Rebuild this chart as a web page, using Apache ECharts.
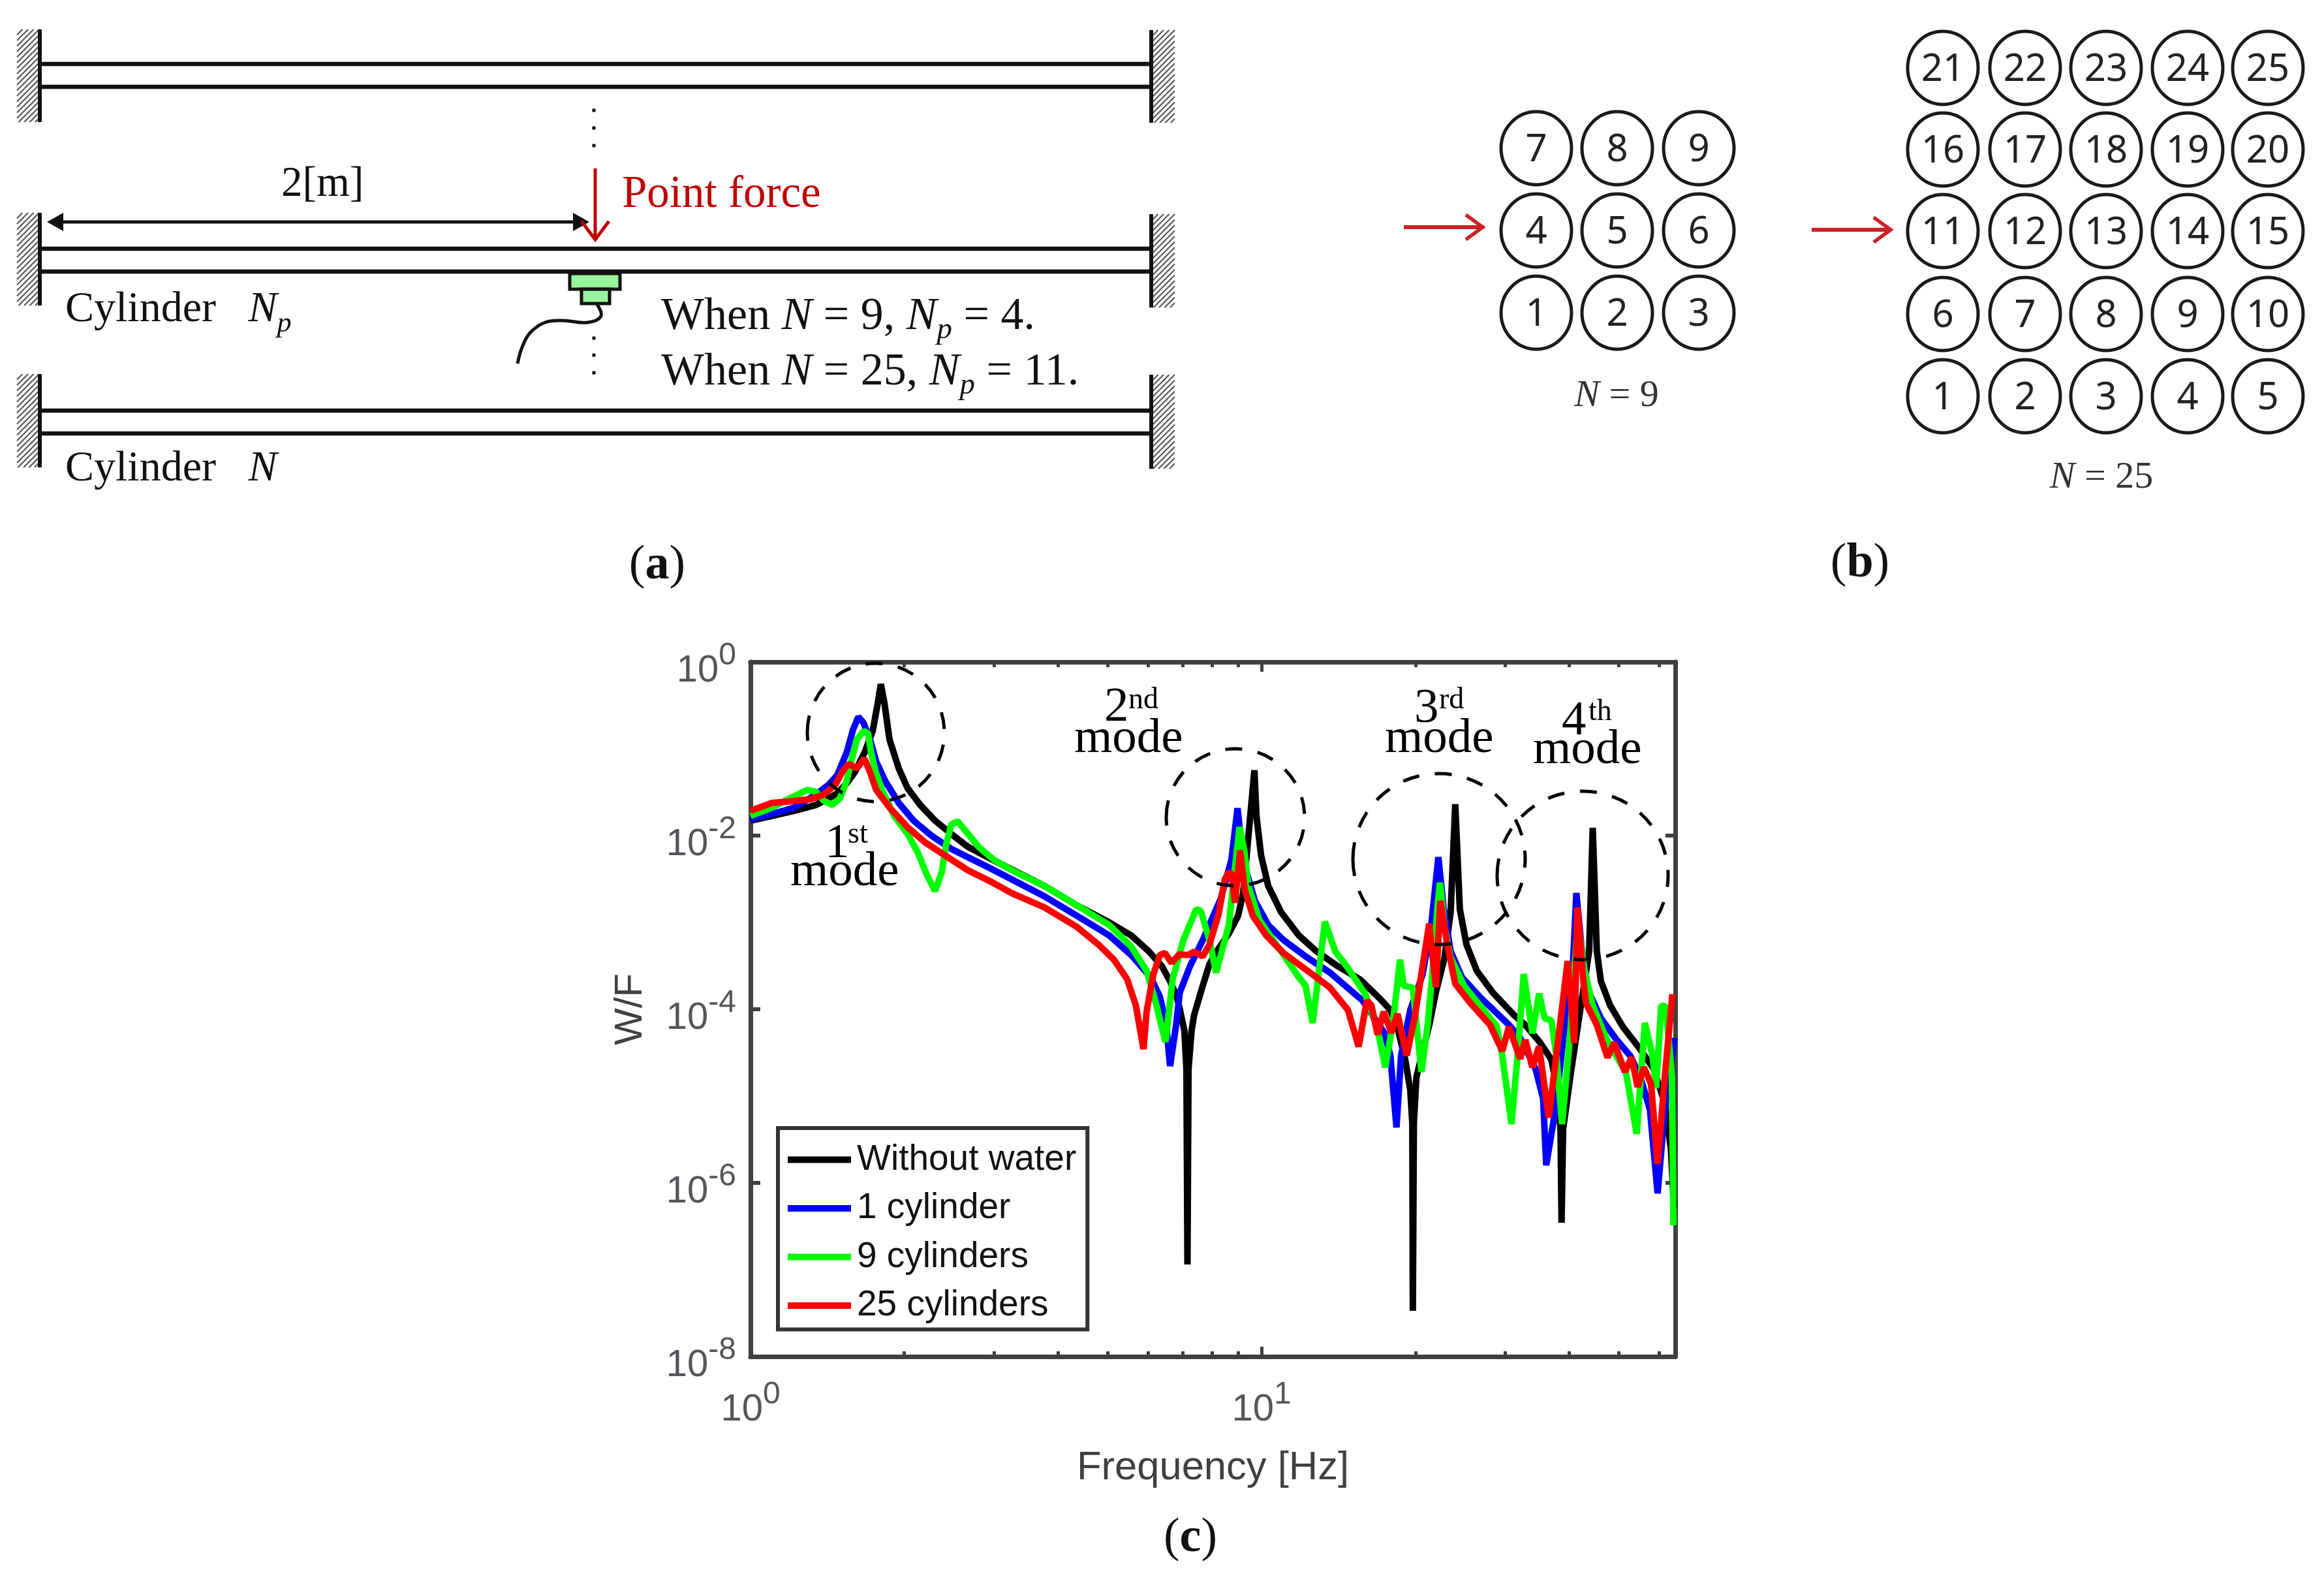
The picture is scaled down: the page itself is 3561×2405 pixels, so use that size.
<!DOCTYPE html>
<html>
<head>
<meta charset="utf-8">
<style>html,body{margin:0;padding:0;background:#fff}#c{width:3561px;height:2405px}</style>
<script src="https://cdn.jsdelivr.net/npm/echarts@6/dist/echarts.min.js"></script>
</head>
<body>
<div id="c"></div>
<script>
// Values, in decades: log10(frequency in Hz) and log10(W/F).
const seriesNames = ['Without water', '1 cylinder', '9 cylinders', '25 cylinders'];

const blackLogF = [0,.042,.086,.128,.153,.170,.188,.204,.223,.239,.249,.255,.262,.272,.290,.307,.332,.361,.392,.425,.469,.511,.575,.639,.702,.745,.779,.805,.821,.834,.840,.849,.853,.855,.857,.863,.868,.881,.898,.916,.936,.954,.964,.974,.986,.990,.999,1.013,1.038,1.073,1.107,1.149,1.192,1.232,1.252,1.267,1.281,1.291,1.295,1.296,1.298,1.303,1.329,1.341,1.358,1.370,1.379,1.388,1.401,1.421,1.452,1.494,1.516,1.545,1.567,1.579,1.585,1.587,1.590,1.604,1.623,1.641,1.648,1.656,1.664,1.682,1.707,1.737,1.767,1.789,1.801,1.807];
const blackLogWF = [-1.827,-1.774,-1.714,-1.647,-1.571,-1.511,-1.398,-1.271,-1.045,-.797,-.474,-.256,-.474,-.895,-1.226,-1.451,-1.647,-1.827,-1.977,-2.128,-2.263,-2.391,-2.579,-2.805,-3.000,-3.150,-3.331,-3.504,-3.677,-3.857,-4.000,-4.248,-4.692,-6.940,-4.692,-4.248,-4.068,-3.805,-3.481,-3.301,-3.128,-2.925,-2.662,-2.023,-1.248,-1.774,-2.226,-2.579,-2.880,-3.150,-3.331,-3.504,-3.654,-3.880,-4.008,-4.233,-4.579,-4.932,-5.308,-7.474,-5.308,-4.782,-4.158,-3.805,-3.406,-2.880,-1.639,-2.850,-3.256,-3.556,-3.805,-4.068,-4.180,-4.383,-4.579,-4.932,-5.383,-6.459,-5.383,-4.782,-4.030,-3.331,-1.910,-3.331,-3.677,-3.955,-4.203,-4.429,-4.684,-5.083,-5.609,-6.286];

const blueLogF = [0,.042,.086,.128,.153,.170,.188,.201,.211,.221,.234,.246,.264,.290,.319,.354,.392,.425,.469,.511,.575,.639,.702,.745,.783,.801,.813,.821,.833,.840,.860,.885,.920,.941,.953,.960,.971,.987,1.013,1.043,1.086,1.134,1.198,1.241,1.252,1.264,1.273,1.291,1.315,1.332,1.346,1.356,1.370,1.392,1.427,1.484,1.506,1.536,1.551,1.557,1.575,1.596,1.609,1.616,1.626,1.639,1.664,1.695,1.722,1.741,1.760,1.775,1.789,1.808];
const blueLogWF = [-1.812,-1.752,-1.677,-1.526,-1.414,-1.301,-1.045,-.774,-.632,-.699,-.895,-1.150,-1.376,-1.624,-1.827,-2.000,-2.150,-2.248,-2.376,-2.504,-2.699,-2.925,-3.150,-3.376,-3.632,-3.857,-4.158,-4.654,-4.173,-3.805,-3.504,-3.203,-2.729,-2.278,-1.684,-2.075,-2.429,-2.752,-3.030,-3.203,-3.391,-3.579,-3.902,-4.278,-4.534,-5.361,-4.534,-4.008,-3.602,-3.030,-2.248,-2.827,-3.331,-3.632,-3.857,-4.180,-4.331,-4.684,-5.030,-5.797,-5.158,-4.030,-3.526,-2.662,-3.278,-3.782,-4.105,-4.353,-4.541,-4.782,-5.158,-6.120,-5.158,-4.331];

const greenLogF = [0,.042,.077,.111,.128,.144,.160,.175,.188,.198,.208,.221,.230,.236,.245,.259,.281,.307,.328,.345,.361,.374,.383,.393,.405,.421,.447,.476,.511,.575,.639,.702,.745,.775,.792,.812,.826,.847,.872,.881,.898,.911,.936,.945,.957,.967,.974,.996,1.038,1.073,1.086,1.100,1.124,1.144,1.169,1.203,1.227,1.242,1.257,1.271,1.278,1.296,1.303,1.313,1.325,1.335,1.345,1.349,1.358,1.370,1.396,1.427,1.460,1.471,1.489,1.501,1.513,1.530,1.543,1.554,1.567,1.577,1.588,1.604,1.619,1.631,1.648,1.674,1.713,1.734,1.750,1.765,1.772,1.782,1.791,1.803,1.806];
const greenLogWF = [-1.774,-1.677,-1.571,-1.474,-1.496,-1.602,-1.647,-1.571,-1.376,-1.120,-.895,-.797,-.820,-1.045,-1.271,-1.496,-1.774,-1.977,-2.203,-2.451,-2.639,-2.429,-2.098,-1.872,-1.835,-1.947,-2.135,-2.278,-2.398,-2.579,-2.805,-3.030,-3.278,-3.556,-3.902,-4.376,-3.654,-3.203,-2.850,-2.865,-3.203,-3.579,-3.030,-2.526,-1.902,-2.203,-2.579,-2.977,-3.331,-3.632,-3.729,-4.158,-2.992,-3.331,-3.526,-3.827,-4.233,-4.669,-4.158,-3.429,-3.729,-3.752,-4.158,-4.722,-4.180,-3.526,-2.774,-2.541,-3.053,-3.406,-3.729,-3.955,-4.195,-4.534,-5.323,-4.534,-3.594,-4.278,-3.820,-4.105,-4.128,-4.534,-5.323,-4.278,-2.977,-3.526,-3.955,-4.331,-4.729,-5.436,-4.158,-4.534,-4.910,-3.955,-3.970,-4.782,-6.489];

const redLogF = [0,.042,.086,.119,.144,.166,.179,.192,.208,.223,.234,.246,.272,.307,.341,.374,.425,.469,.511,.575,.639,.681,.711,.737,.754,.769,.775,.788,.801,.811,.824,.839,.856,.868,.885,.898,.916,.928,.935,.941,.948,.958,.967,.983,1.009,1.043,1.107,1.134,1.169,1.190,1.206,1.215,1.227,1.239,1.254,1.266,1.284,1.300,1.328,1.341,1.350,1.363,1.379,1.409,1.447,1.471,1.484,1.506,1.516,1.530,1.543,1.562,1.599,1.612,1.618,1.630,1.635,1.656,1.677,1.690,1.711,1.724,1.736,1.748,1.762,1.775,1.789,1.804];
const redLogWF = [-1.714,-1.624,-1.602,-1.579,-1.526,-1.414,-1.271,-1.173,-1.226,-1.113,-1.271,-1.474,-1.677,-1.902,-2.075,-2.203,-2.398,-2.526,-2.662,-2.827,-3.053,-3.256,-3.429,-3.654,-3.955,-4.459,-4.030,-3.602,-3.376,-3.353,-3.466,-3.368,-3.376,-3.338,-3.391,-3.256,-2.902,-2.504,-2.429,-2.436,-2.774,-2.173,-2.624,-2.925,-3.150,-3.353,-3.632,-3.752,-4.008,-4.429,-3.902,-3.955,-4.293,-4.030,-4.271,-4.053,-4.534,-4.083,-3.015,-3.744,-2.752,-3.241,-3.707,-3.932,-4.180,-4.481,-4.203,-4.571,-4.353,-4.669,-4.429,-5.248,-3.444,-4.391,-2.827,-3.692,-3.932,-4.180,-4.556,-4.383,-4.722,-4.556,-4.895,-4.669,-4.857,-5.782,-4.782,-3.827];

const xMajorTicks = [1, 10];
const xMinorTicks = [2,3,4,5,6,7,8,9,20,30,40,50,60];
const yTickValues = [1,1e-2,1e-4,1e-6,1e-8];
const modeLabels = [['1','st'],['2','nd'],['3','rd'],['4','th']];
const gridN9 = [[7,8,9],[4,5,6],[1,2,3]];
const gridN25 = [[21,22,23,24,25],[16,17,18,19,20],[11,12,13,14,15],[6,7,8,9,10],[1,2,3,4,5]];

const SANS = '"Liberation Sans",Arial,sans-serif';
const SERIF = '"Liberation Serif","Times New Roman",serif';
const AXC = '#404040';

function pair(fs, ws){ return fs.map((f,i)=>[Math.pow(10,f), Math.pow(10,ws[i])]); }
function lineSeries(i, fs, ws, color){
  return {name:seriesNames[i], type:'line', xAxisIndex:0, yAxisIndex:0, data:pair(fs,ws), symbol:'none', showSymbol:false, smooth:false, animation:false, clip:true, silent:true,
    lineStyle:{color, width:10, join:'bevel', cap:'butt'}, itemStyle:{color}, z:3+i};
}

const g = [];
function T(text,x,base,size,o){ o=o||{};
  g.push({type:'text', z:20, silent:true, style:Object.assign({text, x, y:base-0.27*size, fontFamily:o.font||SERIF, fontSize:size, fill:o.fill||'#111', align:o.align||'left', verticalAlign:'middle', fontStyle:o.italic?'italic':'normal', fontWeight:o.bold?'bold':'normal'}, o.extra||{})});
}
function L(pts,w,c,o){ o=o||{};
  g.push({type:'polyline', z:o.z||15, silent:true, shape:{points:pts, smooth:o.smooth||0}, style:{stroke:c, lineWidth:w, fill:'none', lineCap:'butt', lineJoin:'miter'}});
}
function P(pts,c){ g.push({type:'polygon', z:15, silent:true, shape:{points:pts}, style:{fill:c, stroke:null}}); }
function R(x,y,w,h,fill,stroke,lw){ g.push({type:'rect', z:14, silent:true, shape:{x,y,width:w,height:h}, style:{fill, stroke, lineWidth:lw}}); }

// Panel (a): beams and clamped ends
const beamX0 = 61, beamX1 = 1764;
[[98,133],[381,416],[629,664]].forEach(b=>b.forEach(y=>L([[beamX0,y],[beamX1,y]],6.5,'#111')));
function hatch(x0,x1,y0,y1){
  const step=8.5, w=x1-x0;
  for(let s=y0+step; s<y1+w; s+=step){
    let ax=x0, ay=s, bx=x1, by=s-w;
    if(ay>y1){ ax=x0+(ay-y1); ay=y1; }
    if(by<y0){ bx=x1-(y0-by); by=y0; }
    L([[ax,ay],[bx,by]],2.2,'#555',{z:13});
  }
}
[[45,187],[326,468],[573,716]].forEach(r=>{ hatch(26,60,r[0],r[1]); L([[61,r[0]],[61,r[1]]],6,'#111'); });
[[46,188],[328,471],[574,718]].forEach(r=>{ hatch(1766,1800,r[0],r[1]); L([[1764,r[0]],[1764,r[1]]],6,'#111'); });
[169,196,223,518,544,571].forEach(y=>R(907.5,y-2.5,5,5,'#111',null,0));
// dimension arrow
L([[85,340],[890,340]],5,'#111');
P([[72,340],[97,326],[97,354]],'#111');
P([[903,340],[878,326],[878,354]],'#111');
T('2[m]',431,300,65);
// point force
L([[912,258],[912,365]],5,'#c00000');
L([[891,339],[912,367],[933,339]],5,'#c00000');
T('Point force',953,318,69,{fill:'#c00000'});
// sensor
R(873,419,77,24,'#99f59d','#111',5);
R(891,443,43,22,'#99f59d','#111',5);
L([[914,465],[921,484],[900,494],[862,491],[835,494],[812,510],[800,532],[793,557]],5,'#111',{smooth:0.4});
function richFor(sz){ return {r:{fontFamily:SERIF,fontSize:sz,lineHeight:86,fill:'#111'}, i:{fontFamily:SERIF,fontStyle:'italic',fontSize:sz,lineHeight:86,fill:'#111'}, p:{fontFamily:SERIF,fontStyle:'italic',fontSize:sz*0.67,lineHeight:86,verticalAlign:'bottom',fill:'#111'}}; }
function RT(text,x,base,sz){ g.push({type:'text',z:20,silent:true,style:{text,x,y:base-16,align:'left',verticalAlign:'middle',fontFamily:SERIF,fontSize:sz,fill:'#111',rich:richFor(sz)}}); }
RT('{r|Cylinder   }{i|N}{p|p}',100,491,66);
RT('{r|Cylinder   }{i|N}',100,735,66);
RT('{r|When }{i|N}{r| = 9, }{i|N}{p|p}{r| = 4.}',1013,502,70);
RT('{r|When }{i|N}{r| = 25, }{i|N}{p|p}{r| = 11.}',1013,587,70);

// Panel (b): cylinder arrays
function circles(rows,xs,ys){
  rows.forEach((row,ri)=>row.forEach((n,ci)=>{
    g.push({type:'ellipse',z:14,silent:true,shape:{cx:xs[ci],cy:ys[ri],rx:54,ry:56},style:{fill:'#fff',stroke:'#1a1a1a',lineWidth:5}});
    g.push({type:'text',z:20,silent:true,style:{text:String(n),x:xs[ci],y:ys[ri]+3,align:'center',verticalAlign:'middle',fontFamily:'"Noto Sans",sans-serif',fontSize:58,fill:'#222'}});
  }));
}
circles(gridN9,[2354,2478,2603],[227,353,479]);
circles(gridN25,[2977,3103,3227,3352,3475],[104,229,354,481,607]);
function redArrow(x0,x1,y){ L([[x0,y],[x1-3,y]],6,'#cc2127'); L([[x1-26,y-19],[x1,y],[x1-26,y+19]],5.5,'#cc2127'); }
redArrow(2151,2272,348);
redArrow(2776,2897,352);
const richN = {r:{fontFamily:SERIF,fontSize:58,fill:'#333'},i:{fontFamily:SERIF,fontStyle:'italic',fontSize:58,fill:'#333'}};
g.push({type:'text',z:20,silent:true,style:{text:'{i|N}{r| = 9}',x:2477,y:607,align:'center',verticalAlign:'middle',rich:richN}});
g.push({type:'text',z:20,silent:true,style:{text:'{i|N}{r| = 25}',x:3220,y:732,align:'center',verticalAlign:'middle',rich:richN}});

// Panel captions
const richP = {r:{fontFamily:SERIF,fontSize:74,fill:'#111'},b:{fontFamily:SERIF,fontSize:74,fontWeight:'bold',fill:'#111'}};
[['a',1007,867],['b',2850,864],['c',1824,2357]].forEach(c=>{
  g.push({type:'text',z:20,silent:true,style:{text:'{r|(}{b|'+c[0]+'}{r|)}',x:c[1],y:c[2],align:'center',verticalAlign:'middle',rich:richP}});
});

// Panel (c): mode circles and labels
[[1342,1122,105,106],[1893,1252,106,105],[2205,1316,132,131],[2425,1341,131,129]].forEach(c=>{
  g.push({type:'ellipse',z:12,silent:true,shape:{cx:c[0],cy:c[1],rx:c[2],ry:c[3]},style:{fill:'none',stroke:'#000',lineWidth:5,lineDash:[26,24]}});
});
const modePos = [
  {mx:1211,mb:1357,nx:1264,nb:1314,sx:1299,sb:1291},
  {mx:1646,mb:1153,nx:1692,nb:1105,sx:1729,sb:1085},
  {mx:2122,mb:1153,nx:2167,nb:1107,sx:2205,sb:1085},
  {mx:2349,mb:1170,nx:2393,nb:1126,sx:2434,sb:1103}
];
modeLabels.forEach((m,i)=>{
  const p=modePos[i];
  T(m[0],p.nx,p.nb,75,{fill:'#000'});
  T(m[1],p.sx,p.sb,46,{fill:'#000'});
  T('mode',p.mx,p.mb,75,{fill:'#000'});
});

const labelRich = {
  n:{fontFamily:SANS,fontSize:58,lineHeight:94,fill:AXC},
  s:{fontFamily:SANS,fontSize:48,lineHeight:94,fill:AXC,verticalAlign:'top'}
};
function expLabel(v){ return '{n|10}{s|'+Math.round(Math.log10(v))+'}'; }
const hiddenLine = {show:true,onZero:false,lineStyle:{color:AXC,width:7}};
function xAx(pos,ticks,len,labels){
  return {type:'log',logBase:10,min:1,max:64.5,position:pos,gridIndex:0,splitLine:{show:false},minorTick:{show:false},
    axisLine:hiddenLine,
    axisTick:{show:true,inside:true,length:len,customValues:ticks,lineStyle:{color:AXC,width:5}},
    axisLabel:labels?{show:true,customValues:xMajorTicks,margin:35,formatter:expLabel,rich:labelRich}:{show:false},
    name:labels?'Frequency [Hz]':'',nameLocation:'middle',nameGap:140,nameTextStyle:{fontFamily:SANS,fontSize:61.5,color:AXC}};
}
function yAx(pos,labels){
  return {type:'log',logBase:10,min:1e-8,max:1,position:pos,gridIndex:0,splitLine:{show:false},minorTick:{show:false},
    axisLine:hiddenLine,
    axisTick:{show:true,inside:true,length:15,customValues:yTickValues,lineStyle:{color:AXC,width:6}},
    axisLabel:labels?{show:true,customValues:yTickValues,margin:22,formatter:expLabel,rich:labelRich,padding:[28,0,0,0]}:{show:false},
    name:labels?'W/F':'',nameLocation:'middle',nameGap:154,nameTextStyle:{fontFamily:SANS,fontSize:60,color:AXC}};
}

const option = {
  backgroundColor:'#fff',
  animation:false,
  grid:{left:1150,top:1014,width:1417,height:1064,containLabel:false,show:false},
  xAxis:[xAx('bottom',xMajorTicks,15,true),xAx('bottom',xMinorTicks,8,false),xAx('top',xMajorTicks,15,false),xAx('top',xMinorTicks,8,false)],
  yAxis:[yAx('left',true),yAx('right',false)],
  legend:{show:true,orient:'vertical',left:1192,top:1728,itemWidth:97,itemHeight:10,itemGap:19.5,icon:'rect',
    padding:[21,17,9,15],borderColor:'#333',borderWidth:6,backgroundColor:'#fff',selectedMode:false,
    textStyle:{fontFamily:SANS,fontSize:55,color:'#111',lineHeight:50,padding:[0,0,0,4]},z:10,
    data:seriesNames},
  series:[
    lineSeries(0,blackLogF,blackLogWF,'#000000'),
    lineSeries(1,blueLogF,blueLogWF,'#0000ff'),
    lineSeries(2,greenLogF,greenLogWF,'#00ff00'),
    lineSeries(3,redLogF,redLogWF,'#ff0000')
  ],
  graphic:{elements:g}
};
echarts.init(document.getElementById('c'),null,{renderer:'canvas'}).setOption(option);
</script>
</body>
</html>
